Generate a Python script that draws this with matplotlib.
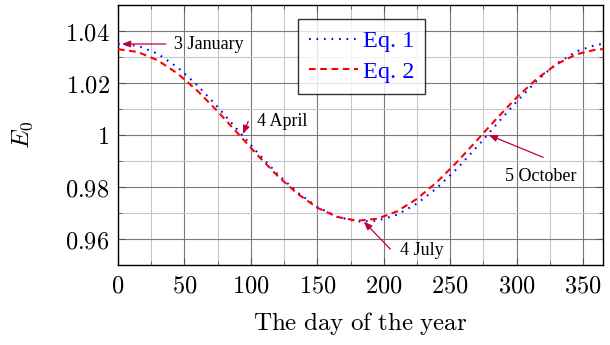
import matplotlib
matplotlib.use("Agg")
import matplotlib.pyplot as plt
from matplotlib.ticker import MultipleLocator, FixedLocator, FixedFormatter

plt.rcParams['mathtext.fontset'] = 'cm'

days = [0, 15, 30, 45, 60, 75, 90, 105, 120, 135, 150, 165, 180, 195,
        210, 225, 240, 255, 270, 285, 300, 315, 330, 345, 360, 365]
eq1 = [1.03502, 1.03432, 1.03122, 1.02597, 1.01899, 1.01079, 1.00200, 0.99322,
       0.98503, 0.97794, 0.97234, 0.96854, 0.96673, 0.96700, 0.96933, 0.97360,
       0.97959, 0.98698, 0.99535, 1.00415, 1.01283, 1.02078, 1.02739, 1.03216,
       1.03471, 1.03502]
eq2 = [1.03300, 1.03191, 1.02870, 1.02359, 1.01690, 1.00911, 1.00071, 0.99226,
       0.98433, 0.97744, 0.97203, 0.96848, 0.96703, 0.96776, 0.97063, 0.97544,
       0.98188, 0.98953, 0.99787, 1.00635, 1.01441, 1.02151, 1.02719, 1.03106,
       1.03288, 1.03300]

xticks = [0, 50, 100, 150, 200, 250, 300, 350]
yticks = [0.96, 0.98, 1.00, 1.02, 1.04]
ytick_labels = ['0.96', '0.98', '1', '1.02', '1.04']

ann_labels = ['3 January', '4 April', '4 July', '5 October']
ann_points = [(3, 1.0350), (94, 1.0004), (185, 0.9667), (279, 1.0000)]
ann_tails = [(36, 1.0350), (98, 1.0052), (205, 0.9561), (320, 0.9914)]
ann_text = [(42, 1.0350), (105, 1.0053), (212, 0.9556), (291, 0.9842)]

fig = plt.figure(figsize=(6.1, 3.45), dpi=100)
ax = fig.add_axes([0.1934, 0.2319, 0.7951, 0.7536])

ax.plot(days, eq1, color='#0000ff', lw=1.5, linestyle=(0, (0.8, 2.8)),
        label='Eq. 1', zorder=3)
ax.plot(days, eq2, color='#ff0000', lw=1.5, linestyle=(0, (3.2, 2.2)),
        label='Eq. 2', zorder=3)

ax.set_xlim(0, 365)
ax.set_ylim(0.95, 1.05)
ax.xaxis.set_major_locator(FixedLocator(xticks))
ax.xaxis.set_major_formatter(FixedFormatter([f'${t}$' for t in xticks]))
ax.xaxis.set_minor_locator(MultipleLocator(25))
ax.yaxis.set_major_locator(FixedLocator(yticks))
ax.yaxis.set_major_formatter(FixedFormatter([f'${t}$' for t in ytick_labels]))
ax.yaxis.set_minor_locator(MultipleLocator(0.01))

ax.grid(which='major', color='#7a7a7a', lw=0.8, zorder=0)
ax.grid(which='minor', color='#c6c6c6', lw=0.8, zorder=0)
ax.set_axisbelow(True)
ax.tick_params(which='both', direction='in', top=True, right=True,
               labelsize=17.5, color='#555555')
ax.tick_params(which='major', length=5, pad=6)
ax.tick_params(which='minor', length=3)
for s in ax.spines.values():
    s.set_linewidth(1.0)
    s.set_color('black')

ax.set_xlabel(r'$\mathrm{The\ day\ of\ the\ year}$', fontsize=18, labelpad=9)
ax.set_ylabel(r'$E_0$', fontsize=18, labelpad=22)

arrow_color = '#bf0040'
for pt, tl in zip(ann_points, ann_tails):
    ax.annotate('', xy=pt, xytext=tl,
                arrowprops=dict(arrowstyle='-|>,head_length=0.5,head_width=0.2',
                                color=arrow_color, lw=0.9, shrinkA=0, shrinkB=0),
                zorder=4)

tfont = dict(family='Liberation Serif', fontsize=13, color='black')
for lab, tx in zip(ann_labels, ann_text):
    ax.text(tx[0], tx[1], lab, ha='left', va='center', **tfont)

leg = ax.legend(loc='upper left', bbox_to_anchor=(0.372, 0.945),
                prop={'family': 'Liberation Serif', 'size': 17.5},
                frameon=True, fancybox=False, edgecolor='black',
                handlelength=2.0, borderpad=0.45, labelspacing=0.35,
                handletextpad=0.2, borderaxespad=0)
leg.get_frame().set_linewidth(1.0)
for t in leg.get_texts():
    t.set_color('#0000ff')

fig.savefig('out.png', dpi=100)
